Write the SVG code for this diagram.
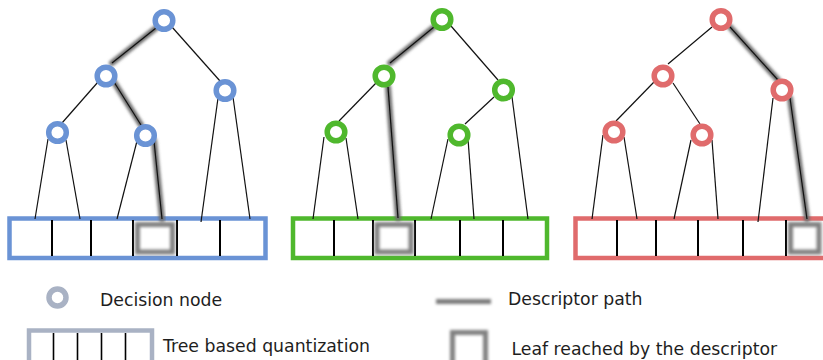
<svg xmlns="http://www.w3.org/2000/svg" width="823" height="360" viewBox="0 0 823 360">
<defs>
<filter id="blur" x="-50%" y="-50%" width="200%" height="200%"><feGaussianBlur stdDeviation="1.8"/></filter>
<filter id="blurU" filterUnits="userSpaceOnUse" x="420" y="285" width="90" height="35"><feGaussianBlur stdDeviation="1.5"/></filter>
<style>
.e{stroke:#111;stroke-width:1.2;fill:none}
.sh{stroke:#6e6e6e;stroke-width:6;fill:none;filter:url(#blur);stroke-linecap:round}
.n{fill:#fff;stroke-width:5.5}
.blue{stroke:#6a93d5}
.green{stroke:#4fb82d}
.red{stroke:#e06b6c}
.grey{stroke:#a9b2c4}
.bar{fill:#fff;stroke-width:4.5}
.div{stroke:#000;stroke-width:2}
.leaf{fill:none;stroke:#808080;stroke-width:5;filter:url(#blur)}
.t{font-family:"DejaVu Sans","Liberation Sans",sans-serif;font-size:17.3px;fill:#1e1e1e}
</style>
</defs>
<rect width="823" height="360" fill="#fff"/>

<!-- bars -->
<g id="bar-blue">
<rect class="bar blue" x="9.5" y="218.5" width="256" height="39.5"/>
<line class="div" x1="52" y1="220" x2="52" y2="256"/>
<line class="div" x1="91" y1="220" x2="91" y2="256"/>
<line class="div" x1="133" y1="220" x2="133" y2="256"/>
<line class="div" x1="177" y1="220" x2="177" y2="256"/>
<line class="div" x1="220" y1="220" x2="220" y2="256"/>
<rect class="leaf" x="137.5" y="224.5" width="35" height="27.5"/>
</g>
<g id="bar-green">
<rect class="bar green" x="293" y="218.5" width="254" height="39.5"/>
<line class="div" x1="334" y1="220" x2="334" y2="256"/>
<line class="div" x1="373" y1="220" x2="373" y2="256"/>
<line class="div" x1="415" y1="220" x2="415" y2="256"/>
<line class="div" x1="460" y1="220" x2="460" y2="256"/>
<line class="div" x1="503" y1="220" x2="503" y2="256"/>
<rect class="leaf" x="377" y="224.5" width="34" height="27.5"/>
</g>
<g id="bar-red">
<rect class="bar red" x="575.5" y="218.5" width="253" height="39.5"/>
<line class="div" x1="617" y1="220" x2="617" y2="256"/>
<line class="div" x1="656" y1="220" x2="656" y2="256"/>
<line class="div" x1="698" y1="220" x2="698" y2="256"/>
<line class="div" x1="743" y1="220" x2="743" y2="256"/>
<line class="div" x1="786" y1="220" x2="786" y2="256"/>
<rect class="leaf" x="790.5" y="224.5" width="28.5" height="27.5"/>
</g>

<g id="connectors">
<!-- descriptor path shadows -->
<line class="sh" x1="156" y1="28" x2="112" y2="63"/>
<line class="sh" x1="114" y1="82" x2="141" y2="125"/>
<line class="sh" x1="154" y1="141" x2="162" y2="219"/>
<line class="sh" x1="434" y1="27" x2="390" y2="63"/>
<line class="sh" x1="388" y1="87" x2="398" y2="218"/>
<line class="sh" x1="730" y1="27" x2="778" y2="80"/>
<line class="sh" x1="790" y1="98" x2="807" y2="219"/>
<!-- blue -->
<line class="e" x1="156" y1="28" x2="112" y2="63"/>
<line class="e" x1="172" y1="27" x2="220" y2="81"/>
<line class="e" x1="98" y1="82" x2="62" y2="123"/>
<line class="e" x1="114" y1="82" x2="141" y2="125"/>
<line class="e" x1="48" y1="139" x2="35" y2="219"/>
<line class="e" x1="66" y1="140" x2="80" y2="219"/>
<line class="e" x1="137" y1="141" x2="117" y2="219"/>
<line class="e" x1="154" y1="141" x2="162" y2="219"/>
<line class="e" x1="218" y1="98" x2="201" y2="222"/>
<line class="e" x1="233" y1="97" x2="250" y2="219"/>
<!-- green -->
<line class="e" x1="434" y1="27" x2="390" y2="63"/>
<line class="e" x1="451" y1="26" x2="498" y2="80"/>
<line class="e" x1="377" y1="82" x2="339" y2="121"/>
<line class="e" x1="388" y1="87" x2="398" y2="218"/>
<line class="e" x1="324" y1="137" x2="313" y2="219"/>
<line class="e" x1="346" y1="138" x2="358" y2="219"/>
<line class="e" x1="494" y1="97" x2="465" y2="124"/>
<line class="e" x1="512" y1="97" x2="528" y2="219"/>
<line class="e" x1="448" y1="139" x2="431" y2="219"/>
<line class="e" x1="468" y1="139" x2="474" y2="219"/>
<!-- red -->
<line class="e" x1="712" y1="27" x2="668" y2="64"/>
<line class="e" x1="730" y1="27" x2="778" y2="80"/>
<line class="e" x1="654" y1="82" x2="616" y2="121"/>
<line class="e" x1="673" y1="83" x2="700" y2="124"/>
<line class="e" x1="603" y1="135" x2="592" y2="219"/>
<line class="e" x1="624" y1="137" x2="637" y2="219"/>
<line class="e" x1="691" y1="140" x2="674" y2="219"/>
<line class="e" x1="712" y1="140" x2="718" y2="219"/>
<line class="e" x1="773" y1="98" x2="758" y2="222"/>
<line class="e" x1="790" y1="98" x2="807" y2="219"/>
</g>

<!-- blue nodes -->
<g id="b-root"><circle class="n blue" cx="164" cy="20.5" r="8.8"/></g>
<g id="b-l"><circle class="n blue" cx="106" cy="76" r="8.8"/></g>
<g id="b-r"><circle class="n blue" cx="225" cy="90.5" r="8.8"/></g>
<g id="b-ll"><circle class="n blue" cx="57.5" cy="132.5" r="8.8"/></g>
<g id="b-lr"><circle class="n blue" cx="145.5" cy="135.5" r="8.8"/></g>
<!-- green nodes -->
<g id="g-root"><circle class="n green" cx="442" cy="19.5" r="8.8"/></g>
<g id="g-l"><circle class="n green" cx="384" cy="76" r="8.8"/></g>
<g id="g-r"><circle class="n green" cx="503.5" cy="90" r="8.8"/></g>
<g id="g-ll"><circle class="n green" cx="336" cy="132" r="8.8"/></g>
<g id="g-rl"><circle class="n green" cx="459" cy="135" r="8.8"/></g>
<!-- red nodes -->
<g id="r-root"><circle class="n red" cx="721" cy="19.5" r="8.8"/></g>
<g id="r-l"><circle class="n red" cx="663" cy="76" r="8.8"/></g>
<g id="r-r"><circle class="n red" cx="782" cy="90" r="8.8"/></g>
<g id="r-ll"><circle class="n red" cx="614" cy="132" r="8.8"/></g>
<g id="r-lr"><circle class="n red" cx="702" cy="135" r="8.8"/></g>

<!-- legend -->
<g id="legend-node">
<circle class="n grey" cx="57.5" cy="297.5" r="8.5"/>
<text class="t" x="100" y="306">Decision node</text>
</g>
<g id="legend-bar">
<rect class="bar grey" x="29" y="330.5" width="123" height="40"/>
<line class="div" x1="53.5" y1="333" x2="53.5" y2="360" style="stroke-width:1.6"/>
<line class="div" x1="77.5" y1="333" x2="77.5" y2="360" style="stroke-width:1.6"/>
<line class="div" x1="101.5" y1="333" x2="101.5" y2="360" style="stroke-width:1.6"/>
<line class="div" x1="125.5" y1="333" x2="125.5" y2="360" style="stroke-width:1.6"/>
<text class="t" x="163" y="352">Tree based quantization</text>
</g>
<g id="legend-path">
<rect x="436" y="299" width="55" height="5" fill="#7a7a7a" filter="url(#blurU)"/>
<text class="t" x="508" y="305">Descriptor path</text>
</g>
<g id="legend-leaf">
<rect class="leaf" x="452.5" y="332.5" width="33" height="40"/>
<text class="t" x="511.5" y="355">Leaf reached by the descriptor</text>
</g>
</svg>
